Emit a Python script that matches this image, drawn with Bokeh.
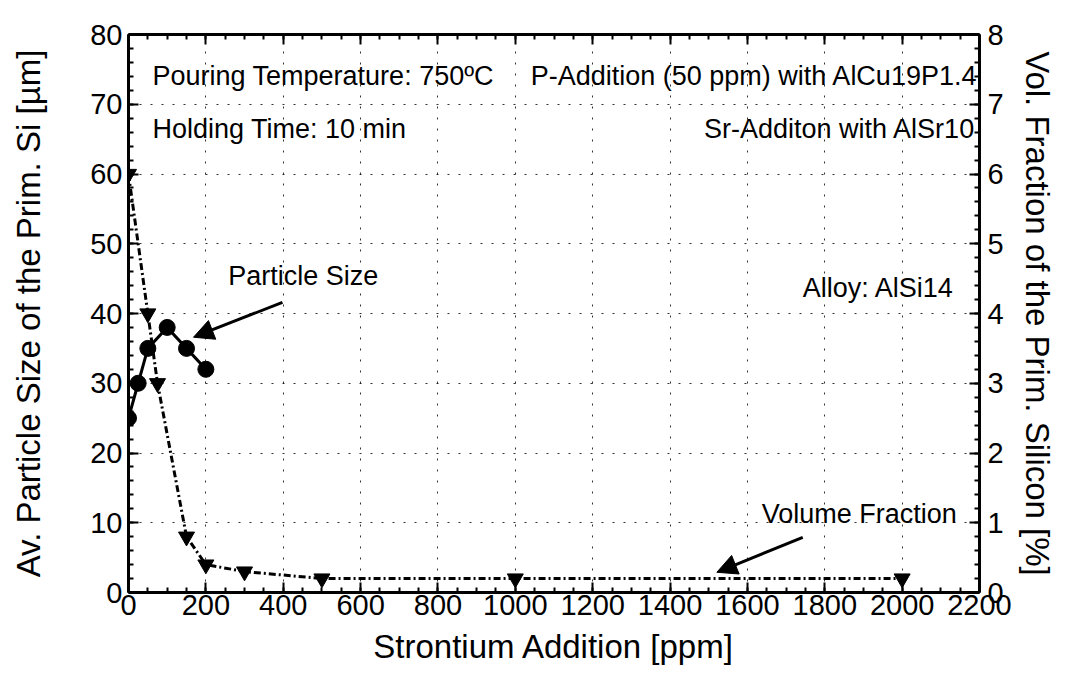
from bokeh.plotting import figure
from bokeh.models import (Range1d, LinearAxis, Label, Arrow, NormalHead,
                          ColumnDataSource, FixedTicker, CustomJSTickFormatter)
from bokeh.embed import file_html
from bokeh.resources import INLINE

# ---- data ----
sr_size = [0, 25, 50, 100, 150, 200]
particle_size = [25, 30, 35, 38, 35, 32]
sr_vol = [0, 50, 75, 150, 200, 300, 500, 1000, 2000]
vol_fraction = [6.0, 4.0, 3.0, 0.8, 0.4, 0.3, 0.2, 0.2, 0.2]
x_ticks = [0, 200, 400, 600, 800, 1000, 1200, 1400, 1600, 1800, 2000, 2200]
y_left_ticks = [0, 10, 20, 30, 40, 50, 60, 70, 80]
y_right_ticks = [0, 1, 2, 3, 4, 5, 6, 7, 8]

FONT = "Liberation Sans"

p = figure(width=1058, height=670, x_range=Range1d(0, 2200), y_range=Range1d(0, 80),
           output_backend="svg", toolbar_location=None,
           min_border_left=128, min_border_right=78, min_border_top=34, min_border_bottom=78)
p.extra_y_ranges = {"vol": Range1d(0, 8)}
p.outline_line_color = None
p.background_fill_color = "white"
p.border_fill_color = "white"

x_minor = [v for v in range(0, 2201, 50)]
yl_minor = [v for v in range(0, 81, 2)]
yr_minor = [v / 5 for v in range(0, 41)]

def style_axis(ax):
    ax.axis_line_width = 3
    ax.axis_line_color = "black"
    ax.major_tick_in = 10
    ax.major_tick_out = 0
    ax.minor_tick_in = 5
    ax.minor_tick_out = 0
    ax.major_tick_line_width = 2
    ax.minor_tick_line_width = 2
    ax.major_label_text_font = FONT
    ax.major_label_text_color = "black"
    ax.major_label_text_font_size = "29px"
    ax.axis_label_text_font = FONT
    ax.axis_label_text_font_style = "normal"
    ax.axis_label_text_color = "black"
    ax.axis_label_text_font_size = "33px"

# bottom axis
xa = p.xaxis[0]
xa.ticker = FixedTicker(ticks=x_ticks, minor_ticks=x_minor)
xa.axis_label = "Strontium Addition [ppm]"
style_axis(xa)
xa.major_label_standoff = 2
xa.axis_label_standoff = 10

# left axis
ya = p.yaxis[0]
ya.ticker = FixedTicker(ticks=y_left_ticks, minor_ticks=yl_minor)
ya.axis_label = "Av. Particle Size of the Prim. Si [µm]"
style_axis(ya)
ya.major_label_standoff = 6
ya.axis_label_standoff = 40

# right axis
yr = LinearAxis(y_range_name="vol", ticker=FixedTicker(ticks=y_right_ticks, minor_ticks=yr_minor),
                axis_label="Vol. Fraction of the Prim. Silicon [%]")
style_axis(yr)
yr.major_label_standoff = 8
yr.axis_label_standoff = 12
p.add_layout(yr, "right")

# top axis (ticks only, no labels)
xt = LinearAxis(ticker=FixedTicker(ticks=x_ticks, minor_ticks=x_minor),
                formatter=CustomJSTickFormatter(code="return ''"))
style_axis(xt)
xt.major_label_standoff = 0
p.add_layout(xt, "above")

# grid
for g in (p.xgrid[0], p.ygrid[0]):
    g.grid_line_color = "black"
    g.grid_line_dash = "2 9"
    g.grid_line_width = 1
    g.grid_line_alpha = 0.8
p.xgrid[0].ticker = FixedTicker(ticks=x_ticks)
p.ygrid[0].ticker = FixedTicker(ticks=y_left_ticks)

# series
src_size = ColumnDataSource(dict(x=sr_size, y=particle_size))
src_vol = ColumnDataSource(dict(x=sr_vol, y=vol_fraction))

p.line("x", "y", source=src_vol, y_range_name="vol", line_color="black",
       line_width=3, line_dash="7 3 2 3")
p.scatter("x", "y", source=src_vol, y_range_name="vol", marker="inverted_triangle",
          size=16, fill_color="black", line_color="black")

p.line("x", "y", source=src_size, line_color="black", line_width=3)
p.scatter("x", "y", source=src_size, marker="circle", size=16,
          fill_color="black", line_color="black")

# annotations
def txt(x, y, s, align="left"):
    p.add_layout(Label(x=x, y=y, text=s, text_font=FONT, text_font_size="27px",
                       text_color="black", text_align=align, text_baseline="middle"))

txt(62, 74.1, "Pouring Temperature: 750ºC")
txt(62, 66.5, "Holding Time: 10 min")
txt(2196, 74.1, "P-Addition (50 ppm) with AlCu19P1.4", align="right")
txt(2190, 66.5, "Sr-Additon with AlSr10", align="right")
txt(2135, 43.7, "Alloy: AlSi14", align="right")
txt(258, 45.4, "Particle Size")
txt(1637, 11.3, "Volume Fraction")

p.add_layout(Arrow(end=NormalHead(size=20, fill_color="black", line_color="black"),
                   x_start=398, y_start=41.6, x_end=168, y_end=36.6,
                   line_width=3, line_color="black"))
p.add_layout(Arrow(end=NormalHead(size=20, fill_color="black", line_color="black"),
                   x_start=1743, y_start=7.9, x_end=1521, y_end=2.9,
                   line_width=3, line_color="black"))

open("out.html", "w").write(file_html(p, INLINE))
